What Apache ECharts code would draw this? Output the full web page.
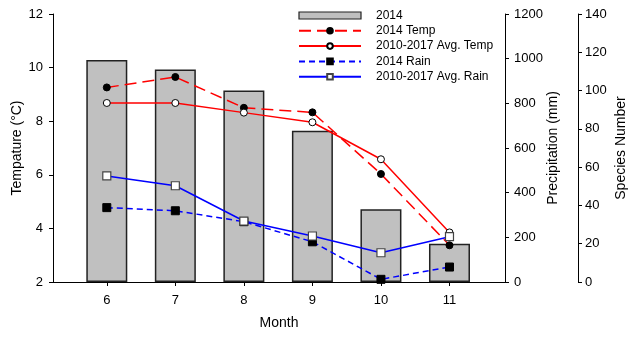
<!DOCTYPE html>
<html>
<head>
<meta charset="utf-8">
<script src="https://cdn.jsdelivr.net/npm/echarts@6/dist/echarts.min.js"></script>
<style>
  html, body { margin: 0; padding: 0; background: #fff; }
  #chart { width: 630px; height: 338px; }
</style>
</head>
<body>
<div id="chart"></div>
<script>
// Monthly climate and species counts
const months = [6, 7, 8, 9, 10, 11];
const species2014 = [116, 111, 100, 79, 38, 20];
const temp2014 = [9.26, 9.65, 8.50, 8.33, 6.03, 3.37];
const tempAvg = [8.68, 8.68, 8.32, 7.96, 6.58, 3.85];
const rain2014 = [333, 319, 270, 180, 12, 67];
const rainAvg = [475, 431, 273, 206, 131, 203];

const pair = vals => months.map((m, i) => [m, vals[i]]);

const FONT = 'Liberation Sans, Arial, sans-serif';
const axisCommon = {
  axisLine: { show: true, lineStyle: { color: '#000', width: 1 } },
  axisTick: { show: true, inside: false, length: 4, lineStyle: { color: '#000' } },
  splitLine: { show: false },
  nameTextStyle: { color: '#000', fontFamily: FONT, fontSize: 14 },
  nameLocation: 'middle',
  nameRotate: 90,
  nameMoveOverlap: false
};
const labelStyle = (margin) => ({
  color: '#000', fontFamily: FONT, fontSize: 13, margin: margin,
  formatter: v => String(v)
});

const chart = echarts.init(document.getElementById('chart'));
chart.setOption({
  animation: false,
  backgroundColor: '#fff',
  textStyle: { fontFamily: FONT },
  grid: { left: 53, right: 125, top: 14, bottom: 56, outerBoundsMode: 'none', containLabel: false },
  legend: {
    orient: 'vertical',
    left: 298,
    top: 9.5,
    padding: 0,
    itemWidth: 62,
    itemHeight: 7,
    itemGap: 3.3,
    textStyle: { color: '#000', fontFamily: FONT, fontSize: 12, padding: [0, 0, 0, 10] },
    data: [
      { name: '2014', icon: 'rect', itemStyle: { borderWidth: 1.2 } },
      '2014 Temp', '2010-2017 Avg. Temp', '2014 Rain', '2010-2017 Avg. Rain'
    ]
  },
  xAxis: {
    type: 'value',
    min: 5.215,
    max: 11.81,
    name: 'Month',
    nameLocation: 'middle',
    nameGap: 34,
    nameMoveOverlap: false,
    nameTextStyle: { color: '#000', fontFamily: FONT, fontSize: 14 },
    axisLine: { show: true, onZero: false, lineStyle: { color: '#000', width: 1 } },
    axisTick: { show: true, length: 4, lineStyle: { color: '#000' }, customValues: months },
    axisLabel: { color: '#000', fontFamily: FONT, fontSize: 13, margin: 12, customValues: months },
    splitLine: { show: false }
  },
  yAxis: [
    Object.assign({}, axisCommon, {
      type: 'value', position: 'left', min: 2, max: 12, interval: 2,
      name: 'Tempature (°C)', nameGap: 29, axisLabel: labelStyle(10)
    }),
    Object.assign({}, axisCommon, {
      type: 'value', position: 'right', min: 0, max: 1200, interval: 200,
      name: 'Precipitation (mm)', nameGap: 41, axisLabel: labelStyle(9)
    }),
    Object.assign({}, axisCommon, {
      type: 'value', position: 'right', offset: 73, min: 0, max: 140, interval: 20,
      name: 'Species Number', nameGap: 36, axisLabel: labelStyle(7)
    })
  ],
  series: [
    {
      name: '2014', type: 'bar', yAxisIndex: 2, barWidth: 41, z: 1,
      itemStyle: { color: '#c0c0c0', borderColor: '#222', borderWidth: 1.5 },
      data: pair(species2014)
    },
    {
      name: '2014 Temp', type: 'line', yAxisIndex: 0, z: 3,
      symbol: 'circle', symbolSize: 7,
      lineStyle: { color: '#ff0000', width: 1.5, type: [12, 6] },
      itemStyle: { color: '#000', borderColor: '#000', borderWidth: 1 },
      data: pair(temp2014)
    },
    {
      name: '2010-2017 Avg. Temp', type: 'line', yAxisIndex: 0, z: 3,
      symbol: 'circle', symbolSize: 7,
      lineStyle: { color: '#ff0000', width: 1.5 },
      itemStyle: { color: '#fff', borderColor: '#000', borderWidth: 1 },
      data: pair(tempAvg)
    },
    {
      name: '2014 Rain', type: 'line', yAxisIndex: 1, z: 3,
      symbol: 'rect', symbolSize: 8,
      lineStyle: { color: '#0000ff', width: 1.5, type: [6, 4] },
      itemStyle: { color: '#000', borderColor: '#000', borderWidth: 1 },
      data: pair(rain2014)
    },
    {
      name: '2010-2017 Avg. Rain', type: 'line', yAxisIndex: 1, z: 3,
      symbol: 'rect', symbolSize: 8,
      lineStyle: { color: '#0000ff', width: 1.5 },
      itemStyle: { color: '#fff', borderColor: '#444', borderWidth: 1.2 },
      data: pair(rainAvg)
    }
  ]
});
</script>
</body>
</html>
